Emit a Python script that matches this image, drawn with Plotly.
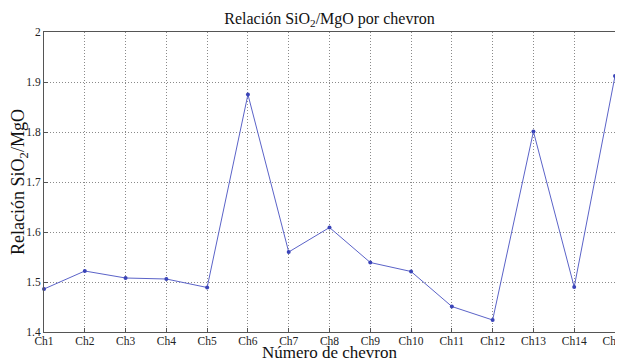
import plotly.graph_objects as go

categories = ["Ch1", "Ch2", "Ch3", "Ch4", "Ch5", "Ch6", "Ch7", "Ch8", "Ch9", "Ch10",
              "Ch11", "Ch12", "Ch13", "Ch14", "Ch15"]
ratio = [1.486, 1.522, 1.508, 1.506, 1.489, 1.875, 1.560, 1.609, 1.539, 1.521,
         1.451, 1.424, 1.801, 1.490, 1.912]
y_ticks = [1.4, 1.5, 1.6, 1.7, 1.8, 1.9, 2.0]
y_tick_text = ["1.4", "1.5", "1.6", "1.7", "1.8", "1.9", "2"]

xs = list(range(1, len(categories) + 1))

fig = go.Figure()
fig.add_trace(go.Scatter(
    x=xs, y=ratio, mode="lines+markers",
    line=dict(color="#5b63c8", width=1),
    marker=dict(color="#3a44b8", size=4),
    showlegend=False, cliponaxis=False,
))

font = "Liberation Serif, Times New Roman, serif"
# page body has an 8px margin, so the figure is sized to the remaining area
fig.update_layout(
    width=615, height=351,
    margin=dict(l=36, r=8, t=24, b=26.5),
    paper_bgcolor="white", plot_bgcolor="white",
    font=dict(family=font, color="#222"),
    title=dict(text="Relación SiO<sub>2</sub>/MgO por chevron", x=0.5, xref="paper",
               y=0.970, yanchor="middle", font=dict(size=16, family=font, color="#111")),
    annotations=[dict(text="Número de chevron", x=0.5, xref="paper", y=-0.068, yref="paper",
                      xanchor="center", yanchor="middle", showarrow=False,
                      font=dict(size=17, family=font, color="#111"))],
)
fig.update_xaxes(
    range=[1, 15], tickmode="array", tickvals=xs, ticktext=categories,
    showgrid=True, gridcolor="#8a8a8a", griddash="1px,2px", gridwidth=1,
    showline=True, linecolor="#555", linewidth=1, mirror=True,
    ticks="inside", ticklen=4, tickcolor="#555",
    tickfont=dict(size=11.5, family=font, color="#222"),
    ticklabeloverflow="allow", automargin=False, ticklabelstandoff=-2,
    zeroline=False,
)
fig.update_yaxes(
    range=[1.4, 2.0], tickmode="array", tickvals=y_ticks, ticktext=y_tick_text,
    showgrid=True, gridcolor="#8a8a8a", griddash="1px,2px", gridwidth=1,
    showline=True, linecolor="#555", linewidth=1, mirror=True,
    ticks="inside", ticklen=4, tickcolor="#555",
    tickfont=dict(size=11.5, family=font, color="#222"),
    title=dict(text="Relación SiO<sub>2</sub>/MgO", font=dict(size=18, family=font, color="#111"), standoff=6),
    automargin=False,
    zeroline=False,
)

fig.write_html("out.html")
